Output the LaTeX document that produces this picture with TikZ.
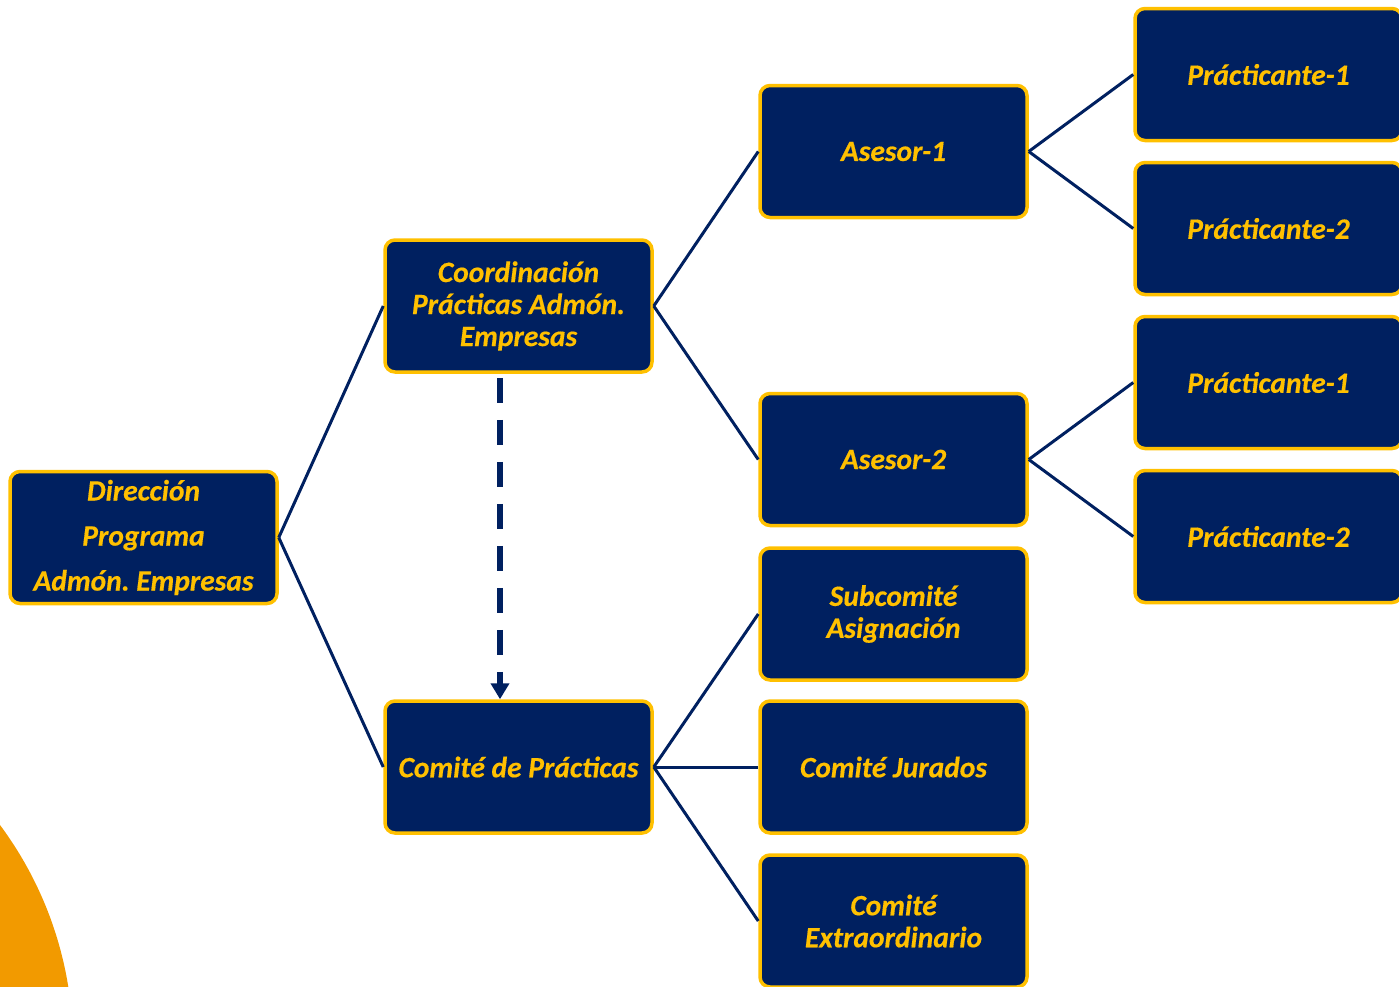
\documentclass[tikz,border=0pt]{standalone}
\usepackage{fontspec}
\setmainfont{Carlito}[BoldItalicFeatures={FakeBold=0.4}]
\usetikzlibrary{arrows.meta}
\definecolor{navy}{HTML}{002060}
\definecolor{gold}{HTML}{FFC000}
\definecolor{orng}{HTML}{F29A00}
\frenchspacing
\begin{document}
\begin{tikzpicture}[x=1pt,y=-1pt,
  box/.style={draw=gold, fill=navy, line width=3.5pt, rounded corners=10pt,
    minimum width=267pt, minimum height=132pt, inner sep=2pt,
    text=gold, align=center, font=\fontsize{29.5}{32}\selectfont\bfseries\itshape},
  link/.style={draw=navy, line width=3pt}]
\useasboundingbox (0,0) rectangle (1399,986);
\clip (0,0) rectangle (1399,986);
\fill[orng] (-298,1046) circle (371pt);
% nodes
\node[box] (dir) at (143.5,537.5) {Dirección\\[13pt]Programa\\[13pt]Admón. Empresas};
\node[box] (coord) at (518.5,306) {Coordinación\\Prácticas Admón.\\Empresas};
\node[box] (com) at (518.5,767) {Comité de Prácticas};
\node[box] (as1) at (893.5,151.5) {Asesor-1};
\node[box] (as2) at (893.5,459.5) {Asesor-2};
\node[box] (sub) at (893.5,614) {Subcomité\\Asignación};
\node[box] (jur) at (893.5,767) {Comité Jurados};
\node[box] (ext) at (893.5,921) {Comité\\Extraordinario};
\node[box] (p1) at (1268.5,74.5) {Prácticante-1};
\node[box] (p2) at (1268.5,228.5) {Prácticante-2};
\node[box] (p3) at (1268.5,382.5) {Prácticante-1};
\node[box] (p4) at (1268.5,536.5) {Prácticante-2};
% connectors
\draw[link] (dir.east) -- (coord.west);
\draw[link] (dir.east) -- (com.west);
\draw[link] (coord.east) -- (as1.west);
\draw[link] (coord.east) -- (as2.west);
\draw[link] (com.east) -- (sub.west);
\draw[link] (com.east) -- (jur.west);
\draw[link] (com.east) -- (ext.west);
\draw[link] (as1.east) -- (p1.west);
\draw[link] (as1.east) -- (p2.west);
\draw[link] (as2.east) -- (p3.west);
\draw[link] (as2.east) -- (p4.west);
\draw[navy, line width=6pt, dash pattern=on 25pt off 17pt,
  -{Triangle[width=18pt,length=16pt]}]
  ([xshift=-18.5pt,yshift=-4pt]coord.south) -- ([xshift=-18.5pt]com.north);
\end{tikzpicture}
\end{document}
